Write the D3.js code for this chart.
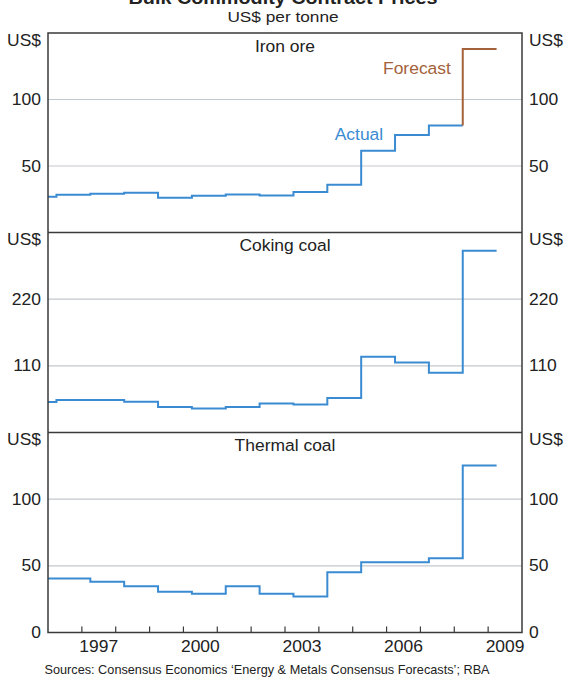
<!DOCTYPE html>
<html>
<head>
<meta charset="utf-8">
<script src="https://cdn.jsdelivr.net/npm/d3@7"></script>
<style>
  html, body { margin: 0; padding: 0; background: #fff; }
  svg { display: block; font-family: "Liberation Sans", Arial, sans-serif; }
</style>
</head>
<body>
<svg id="chart" width="566" height="679"></svg>
<script>
// ---------- data ----------
const fiscalYears = [1995, 1996, 1997, 1998, 1999, 2000, 2001, 2002, 2003, 2004, 2005, 2006, 2007, 2008];
const ironOreActual = [26.8, 28.3, 29.1, 29.9, 26.1, 27.6, 28.6, 27.9, 30.4, 35.9, 61.5, 73.3, 80.4]; // FY1995-FY2007
const ironOreForecast = [138]; // FY2008
const cokingCoal = [50.3, 53.6, 53.6, 50.9, 42.0, 39.8, 42.0, 48.0, 46.0, 56.9, 125.0, 115.6, 98.4, 300];
const thermalCoal = [40.5, 40.5, 38.0, 34.7, 30.5, 29.0, 34.7, 29.0, 27.0, 45.2, 52.7, 52.7, 55.7, 125.2];
const xTickYears = [1997, 1998, 1999, 2000, 2001, 2002, 2003, 2004, 2005, 2006, 2007, 2008, 2009];
const xLabelYears = [1997, 2000, 2003, 2006, 2009];
const panelNames = ["Iron ore", "Coking coal", "Thermal coal"];
const panelMax = [150, 330, 150];
const panelTicks = [[50, 100], [110, 220], [0, 50, 100]];

// ---------- layout ----------
const left = 48, right = 522;
const panelTops = [33, 232.5, 432.5];
const panelBottoms = [232.5, 432.5, 632.5];
const blue = "#3a8bd2", brown = "#a3623b", grid = "#c3c8cd", frame = "#3a3a3a", txt = "#222";
const fs = 15.6;      // glyph height
const sx = 1.12;      // horizontal stretch seen in the reference

const svg = d3.select("#chart");
const x = d3.scaleLinear().domain([1996, 2010]).range([left, right]);
const ys = panelMax.map((m, i) => d3.scaleLinear().domain([0, m]).range([panelBottoms[i], panelTops[i]]));

function label(px, py, str, anchor, size, color, stretch, weight) {
  const t = svg.append("text")
    .attr("transform", `translate(${px},${py}) scale(${stretch},1)`)
    .attr("text-anchor", anchor).attr("font-size", size).attr("fill", color).text(str);
  if (weight) t.attr("font-weight", weight);
  return t;
}

// clip
svg.append("defs").append("clipPath").attr("id", "plotclip")
  .append("rect").attr("x", left).attr("y", panelTops[0]).attr("width", right - left).attr("height", panelBottoms[2] - panelTops[0]);

// title
label(283, 4, "Bulk Commodity Contract Prices", "middle", 18, txt, 1.1, "bold");
label(283, 22, "US$ per tonne", "middle", 15.4, txt, sx);

// gridlines + tick labels
panelTicks.forEach((ticks, i) => {
  const y = ys[i];
  ticks.filter(t => t > 0).forEach(t => {
    svg.append("line").attr("x1", left).attr("x2", right).attr("y1", y(t)).attr("y2", y(t))
      .attr("stroke", grid).attr("stroke-width", 1.2);
  });
  ticks.forEach(t => {
    label(left - 7, y(t) + 5.6, d3.format("d")(t), "end", fs, txt, sx);
    label(right + 7, y(t) + 5.6, d3.format("d")(t), "start", fs, txt, sx);
  });
  label(left - 7, panelTops[i] + 12.5, "US$", "end", fs, txt, sx);
  label(right + 7, panelTops[i] + 12.5, "US$", "start", fs, txt, sx);
  label((left + right) / 2, panelTops[i] + 18.5, panelNames[i], "middle", fs, txt, sx);
});

// step line helper
function stepPoints(values, fyList) {
  const pts = values.map((v, j) => [fyList[j] + 0.25, v]);
  const last = fyList[values.length - 1] + 1.25;
  pts.push([last, values[values.length - 1]]);
  return pts;
}
const plot = svg.append("g").attr("clip-path", "url(#plotclip)");

function drawStep(points, y, color) {
  const line = d3.line().x(d => x(d[0])).y(d => y(d[1])).curve(d3.curveStepAfter);
  plot.append("path").attr("d", line(points)).attr("fill", "none")
    .attr("stroke", color).attr("stroke-width", 2);
}

// iron ore actual + forecast
drawStep(stepPoints(ironOreActual, fiscalYears), ys[0], blue);
const fcStartFY = fiscalYears[ironOreActual.length];
const fcPts = [[fcStartFY + 0.25, ironOreActual[ironOreActual.length - 1]],
               [fcStartFY + 0.25, ironOreForecast[0]],
               [fcStartFY + 1.25, ironOreForecast[0]]];
drawStep(fcPts, ys[0], brown);

drawStep(stepPoints(cokingCoal, fiscalYears), ys[1], blue);
drawStep(stepPoints(thermalCoal, fiscalYears), ys[2], blue);

// series labels
label(x(2007.9), ys[0](119), "Forecast", "end", fs, brown, sx);
label(x(2005.9), ys[0](69.6), "Actual", "end", fs, blue, sx);

// x ticks (bottom panel, pointing up)
xTickYears.forEach(yr => {
  svg.append("line").attr("x1", x(yr)).attr("x2", x(yr)).attr("y1", panelBottoms[2]).attr("y2", panelBottoms[2] - 6)
    .attr("stroke", frame).attr("stroke-width", 1.2);
});
xLabelYears.forEach(yr => {
  label(x(yr + 0.5), panelBottoms[2] + 19, String(yr), "middle", fs, txt, sx);
});

// frame
svg.append("rect").attr("x", left).attr("y", panelTops[0]).attr("width", right - left)
  .attr("height", panelBottoms[2] - panelTops[0]).attr("fill", "none").attr("stroke", frame).attr("stroke-width", 1.5);
[panelBottoms[0], panelBottoms[1]].forEach(yy => {
  svg.append("line").attr("x1", left).attr("x2", right).attr("y1", yy).attr("y2", yy)
    .attr("stroke", frame).attr("stroke-width", 1.5);
});

// source
label(267, 674, "Sources: Consensus Economics \u2018Energy & Metals Consensus Forecasts\u2019; RBA", "middle", 12, txt, 1.06);
</script>
</body>
</html>
